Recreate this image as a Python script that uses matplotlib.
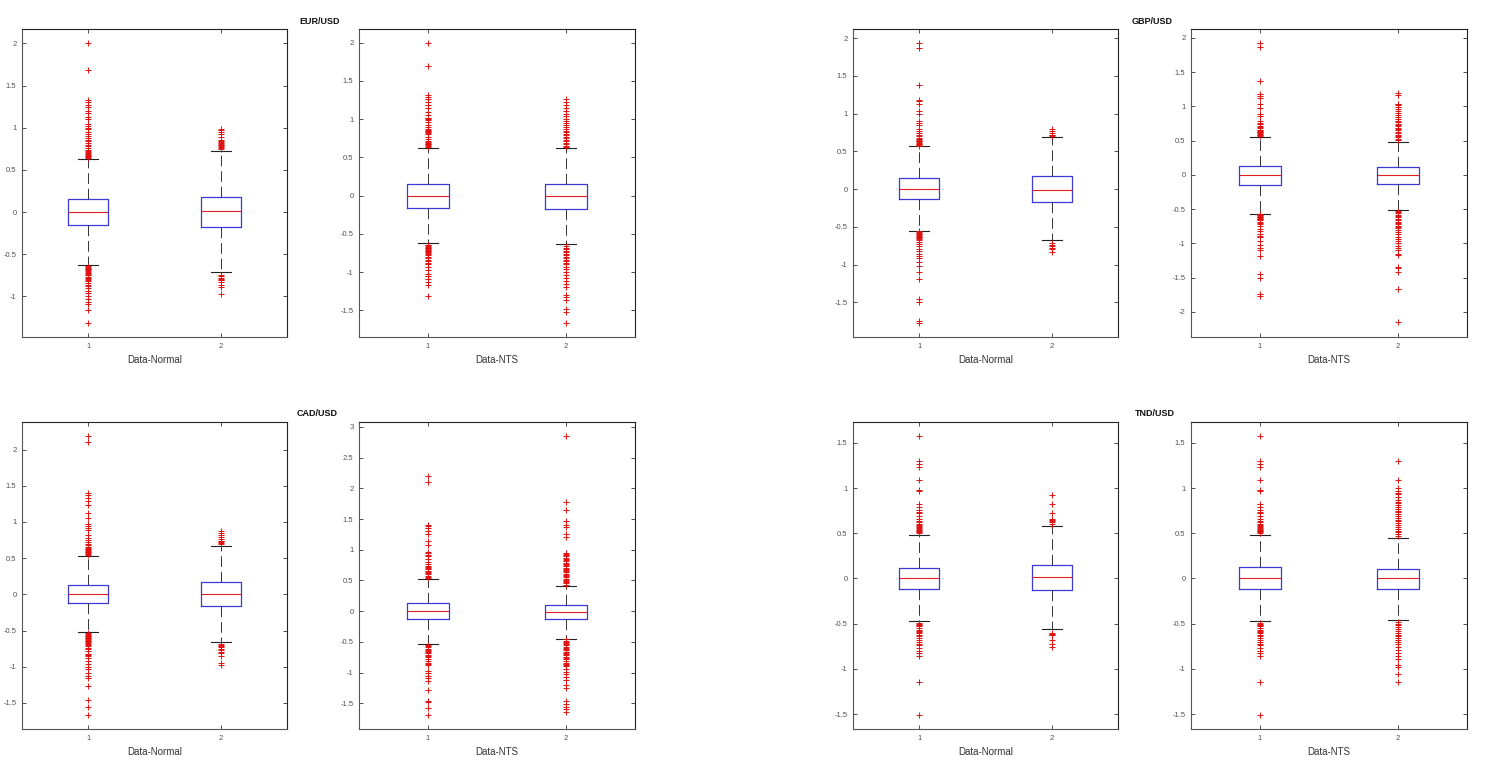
import matplotlib
matplotlib.use("Agg")
import matplotlib.pyplot as plt
from matplotlib.ticker import MultipleLocator, FuncFormatter

# each box: [lower whisker, q1, median, q3, upper whisker]
eur_normal_stats = [[-0.627, -0.154, 0.0, 0.158, 0.627], [-0.71, -0.178, 0.012, 0.185, 0.73]]
eur_normal_out = [
    [2.0, 1.68, 1.33, 1.30, 1.27, 1.24, 1.20, 1.17, 1.13, 1.10, 1.04, 1.02, 1.0, 0.98, 0.95, 0.92, 0.90, 0.88,
     0.86, 0.84, 0.82, 0.80, 0.78, 0.76, 0.74, 0.72, 0.71, 0.70, 0.69, 0.68, 0.67, 0.66, 0.65, 0.64,
     -0.64, -0.65, -0.66, -0.67, -0.68, -0.69, -0.70, -0.71, -0.72, -0.73, -0.74, -0.75, -0.77, -0.78, -0.79,
     -0.80, -0.82, -0.84, -0.86, -0.88, -0.90, -0.93, -0.96, -1.0, -1.03, -1.06, -1.09, -1.16, -1.31],
    [0.99, 0.97, 0.95, 0.92, 0.89, 0.86, 0.84, 0.83, 0.82, 0.81, 0.80, 0.79, 0.78, 0.77, 0.76, 0.75,
     -0.74, -0.76, -0.78, -0.79, -0.80, -0.81, -0.83, -0.86, -0.89, -0.97]]

eur_nts_stats = [[-0.624, -0.157, -0.003, 0.157, 0.624], [-0.638, -0.17, -0.01, 0.157, 0.624]]
eur_nts_out = [
    [2.0, 1.69, 1.32, 1.29, 1.26, 1.22, 1.19, 1.14, 1.10, 1.06, 1.02, 1.01, 1.0, 0.99, 0.96, 0.93, 0.90, 0.87,
     0.86, 0.85, 0.84, 0.83, 0.82, 0.80, 0.77, 0.74, 0.71, 0.70, 0.69, 0.68, 0.67, 0.66, 0.65, 0.64,
     -0.64, -0.65, -0.66, -0.67, -0.68, -0.69, -0.70, -0.71, -0.72, -0.73, -0.74, -0.75, -0.76, -0.78, -0.80,
     -0.82, -0.84, -0.86, -0.88, -0.90, -0.93, -0.97, -1.02, -1.05, -1.09, -1.13, -1.17, -1.31],
    [1.27, 1.23, 1.19, 1.15, 1.11, 1.07, 1.04, 1.0, 0.97, 0.95, 0.93, 0.90, 0.87, 0.85, 0.83, 0.81, 0.79, 0.77,
     0.75, 0.73, 0.71, 0.69, 0.67, 0.65, 0.64,
     -0.66, -0.68, -0.70, -0.72, -0.74, -0.76, -0.78, -0.80, -0.82, -0.84, -0.86, -0.88, -0.90, -0.93, -0.96,
     -1.0, -1.04, -1.08, -1.12, -1.16, -1.20, -1.30, -1.33, -1.37, -1.48, -1.52, -1.67]]

gbp_normal_stats = [[-0.552, -0.132, 0.005, 0.141, 0.565], [-0.671, -0.172, -0.01, 0.172, 0.684]]
gbp_normal_out = [
    [1.93, 1.87, 1.38, 1.18, 1.16, 1.13, 1.03, 1.0, 0.90, 0.88, 0.85, 0.80, 0.77, 0.74, 0.72, 0.70, 0.68, 0.66,
     0.65, 0.64, 0.63, 0.62, 0.61, 0.60, 0.59, 0.58, 0.57,
     -0.56, -0.57, -0.58, -0.59, -0.60, -0.61, -0.62, -0.63, -0.64, -0.65, -0.66, -0.68, -0.70, -0.73, -0.75,
     -0.79, -0.82, -0.86, -0.89, -0.91, -0.97, -1.02, -1.10, -1.19, -1.45, -1.50, -1.75, -1.78],
    [0.80, 0.77, 0.74, 0.72, 0.71, 0.70, -0.72, -0.74, -0.76, -0.78, -0.80, -0.83]]

gbp_nts_stats = [[-0.569, -0.146, 0.0, 0.131, 0.56], [-0.506, -0.131, 0.0, 0.117, 0.487]]
gbp_nts_out = [
    [1.93, 1.87, 1.37, 1.18, 1.15, 1.13, 1.03, 0.98, 0.89, 0.86, 0.79, 0.76, 0.74, 0.72, 0.70, 0.68, 0.66, 0.65,
     0.64, 0.63, 0.62, 0.61, 0.60, 0.59, 0.58, 0.57,
     -0.57, -0.58, -0.59, -0.60, -0.61, -0.62, -0.63, -0.64, -0.65, -0.66, -0.68, -0.70, -0.72, -0.75, -0.79,
     -0.82, -0.86, -0.89, -0.91, -0.97, -1.02, -1.07, -1.10, -1.18, -1.44, -1.50, -1.74, -1.77],
    [1.20, 1.17, 1.04, 1.03, 1.02, 0.99, 0.96, 0.93, 0.90, 0.87, 0.84, 0.81, 0.79, 0.77, 0.75, 0.73, 0.71, 0.69,
     0.67, 0.65, 0.63, 0.61, 0.59, 0.57, 0.55, 0.53, 0.51,
     -0.52, -0.54, -0.56, -0.58, -0.60, -0.62, -0.64, -0.66, -0.68, -0.70, -0.72, -0.74, -0.76, -0.78, -0.80,
     -0.83, -0.86, -0.90, -0.93, -0.97, -1.0, -1.04, -1.07, -1.10, -1.15, -1.17, -1.34, -1.36, -1.42, -1.67, -2.15]]

cad_normal_stats = [[-0.523, -0.124, 0.005, 0.133, 0.532], [-0.66, -0.16, 0.0, 0.17, 0.665]]
cad_normal_out = [
    [2.19, 2.10, 1.40, 1.37, 1.33, 1.29, 1.24, 1.13, 1.05, 0.97, 0.94, 0.92, 0.89, 0.82, 0.78, 0.75, 0.72, 0.70,
     0.68, 0.66, 0.64, 0.63, 0.62, 0.61, 0.60, 0.59, 0.58, 0.57, 0.56, 0.55,
     -0.54, -0.55, -0.56, -0.57, -0.58, -0.59, -0.60, -0.61, -0.62, -0.63, -0.64, -0.65, -0.66, -0.67, -0.68,
     -0.70, -0.72, -0.74, -0.76, -0.78, -0.82, -0.83, -0.84, -0.85, -0.88, -0.92, -0.96, -1.0, -1.03, -1.08,
     -1.13, -1.15, -1.26, -1.46, -1.56, -1.67],
    [0.88, 0.85, 0.82, 0.79, 0.76, 0.74, 0.73, 0.72, 0.71, 0.70,
     -0.69, -0.70, -0.71, -0.73, -0.75, -0.77, -0.79, -0.81, -0.85, -0.95, -0.97]]

cad_nts_stats = [[-0.536, -0.135, 0.0, 0.13, 0.52], [-0.449, -0.13, -0.01, 0.097, 0.417]]
cad_nts_out = [
    [2.20, 2.10, 1.40, 1.38, 1.35, 1.31, 1.25, 1.15, 1.08, 0.97, 0.94, 0.91, 0.89, 0.85, 0.80, 0.76, 0.74, 0.72,
     0.70, 0.68, 0.66, 0.64, 0.62, 0.60, 0.58, 0.56, 0.54,
     -0.55, -0.57, -0.59, -0.61, -0.63, -0.65, -0.67, -0.69, -0.71, -0.73, -0.75, -0.78, -0.82, -0.84, -0.86,
     -0.88, -0.97, -1.0, -1.05, -1.09, -1.14, -1.28, -1.47, -1.48, -1.58, -1.69],
    [2.86, 1.77, 1.64, 1.47, 1.40, 1.37, 1.26, 1.21, 0.95, 0.93, 0.91, 0.89, 0.87, 0.85, 0.83, 0.81, 0.79, 0.77,
     0.75, 0.73, 0.71, 0.69, 0.67, 0.65, 0.63, 0.61, 0.59, 0.57, 0.55, 0.53, 0.51, 0.49, 0.47, 0.45, 0.43,
     -0.46, -0.48, -0.50, -0.52, -0.54, -0.56, -0.58, -0.60, -0.62, -0.64, -0.66, -0.68, -0.70, -0.72, -0.74,
     -0.76, -0.78, -0.82, -0.84, -0.86, -0.88, -0.90, -0.95, -0.99, -1.03, -1.07, -1.13, -1.21, -1.25, -1.46,
     -1.51, -1.56, -1.60, -1.64]]

tnd_normal_stats = [[-0.47, -0.121, 0.0, 0.118, 0.482], [-0.56, -0.132, 0.015, 0.154, 0.585]]
tnd_normal_out = [
    [1.58, 1.30, 1.27, 1.23, 1.09, 0.98, 0.97, 0.82, 0.79, 0.76, 0.73, 0.72, 0.69, 0.66, 0.64, 0.62, 0.60, 0.59,
     0.58, 0.57, 0.56, 0.55, 0.54, 0.53, 0.52, 0.51, 0.50,
     -0.49, -0.50, -0.51, -0.52, -0.53, -0.55, -0.57, -0.58, -0.59, -0.60, -0.62, -0.64, -0.66, -0.68, -0.70,
     -0.72, -0.74, -0.77, -0.80, -0.83, -0.86, -1.15, -1.51],
    [0.92, 0.82, 0.72, 0.66, 0.65, 0.64, 0.62, 0.60, -0.60, -0.61, -0.62, -0.63, -0.68, -0.73, -0.76]]

tnd_nts_stats = [[-0.47, -0.118, 0.0, 0.121, 0.482], [-0.46, -0.121, 0.0, 0.107, 0.452]]
tnd_nts_out = [
    [1.58, 1.30, 1.27, 1.23, 1.09, 0.98, 0.97, 0.82, 0.79, 0.76, 0.73, 0.72, 0.69, 0.66, 0.64, 0.62, 0.60, 0.59,
     0.58, 0.57, 0.56, 0.55, 0.54, 0.53, 0.52, 0.51, 0.50,
     -0.49, -0.50, -0.51, -0.52, -0.53, -0.55, -0.57, -0.58, -0.59, -0.60, -0.62, -0.64, -0.66, -0.68, -0.70,
     -0.72, -0.74, -0.77, -0.80, -0.83, -0.86, -1.15, -1.51],
    [1.30, 1.09, 1.00, 0.97, 0.95, 0.93, 0.90, 0.87, 0.85, 0.83, 0.81, 0.79, 0.77, 0.75, 0.73, 0.71, 0.69, 0.67,
     0.65, 0.63, 0.61, 0.59, 0.57, 0.55, 0.53, 0.51, 0.49, 0.47,
     -0.48, -0.50, -0.52, -0.54, -0.56, -0.58, -0.60, -0.62, -0.64, -0.66, -0.68, -0.70, -0.73, -0.76, -0.79,
     -0.82, -0.86, -0.89, -0.96, -0.98, -1.06, -1.14]]

pair_titles = ["EUR/USD", "GBP/USD", "CAD/USD", "TND/USD"]
x_labels = ["Data-Normal", "Data-NTS"]
box_labels = ["1", "2"]

W, H = 1495, 769


def draw_panel(fig, rect, stats, outs, ylim, xlabel):
    l, t, w, h = rect
    ax = fig.add_axes([l / W, 1 - (t + h) / H, w / W, h / H])
    boxes = []
    for s, o in zip(stats, outs):
        boxes.append(dict(whislo=s[0], q1=s[1], med=s[2], q3=s[3], whishi=s[4], fliers=o))
    ax.bxp(boxes, positions=[1, 2], widths=0.3, capwidths=0.15,
           boxprops=dict(color="#3a3ad8", linewidth=0.9),
           medianprops=dict(color="#e02020", linewidth=0.8),
           whiskerprops=dict(color="#333333", linewidth=0.7, linestyle=(0, (11, 5))),
           capprops=dict(color="#222222", linewidth=0.8),
           flierprops=dict(marker="+", markeredgecolor="#e01010", markersize=5, markeredgewidth=0.7))
    ax.set_xlim(0.5, 2.5)
    ax.set_ylim(*ylim)
    ax.set_xticks([1, 2])
    ax.set_xticklabels(box_labels)
    ax.yaxis.set_major_locator(MultipleLocator(0.5))
    ax.yaxis.set_major_formatter(FuncFormatter(lambda v, p: "%g" % v))
    ax.tick_params(direction="in", top=True, right=True, length=3, width=0.6,
                   labelsize=5.5, labelcolor="#505050", color="#333333", pad=4)
    for side in ["top", "right"]:
        ax.spines[side].set_color("#222222")
    for side in ["left", "bottom"]:
        ax.spines[side].set_color("#555555")
    for sp in ax.spines.values():
        sp.set_linewidth(0.8)
    ax.set_xlabel(xlabel, fontsize=7, color="#333333", labelpad=4)
    return ax


def main():
    plt.rcParams["font.family"] = ["Liberation Sans", "DejaVu Sans"]
    fig = plt.figure(figsize=(W / 100, H / 100), dpi=100)

    draw_panel(fig, (22, 29, 265, 308), eur_normal_stats, eur_normal_out, (-1.48, 2.17), x_labels[0])
    draw_panel(fig, (359, 29, 276, 308), eur_nts_stats, eur_nts_out, (-1.85, 2.18), x_labels[1])
    draw_panel(fig, (853, 29, 265, 308), gbp_normal_stats, gbp_normal_out, (-1.96, 2.12), x_labels[0])
    draw_panel(fig, (1191, 29, 276, 308), gbp_nts_stats, gbp_nts_out, (-2.365, 2.13), x_labels[1])
    draw_panel(fig, (22, 422, 265, 307), cad_normal_stats, cad_normal_out, (-1.86, 2.38), x_labels[0])
    draw_panel(fig, (359, 422, 276, 307), cad_nts_stats, cad_nts_out, (-1.92, 3.08), x_labels[1])
    draw_panel(fig, (853, 422, 265, 307), tnd_normal_stats, tnd_normal_out, (-1.665, 1.73), x_labels[0])
    draw_panel(fig, (1191, 422, 276, 307), tnd_nts_stats, tnd_nts_out, (-1.665, 1.73), x_labels[1])

    title_pos = [(320, 22), (1152, 22), (317, 414), (1155, 414)]
    for name, (x, y) in zip(pair_titles, title_pos):
        fig.text(x / W, 1 - y / H, name, ha="center", va="center",
                 fontsize=6.5, fontweight="bold", color="#111111")

    fig.savefig("out.png", dpi=100)


if __name__ == "__main__":
    main()
